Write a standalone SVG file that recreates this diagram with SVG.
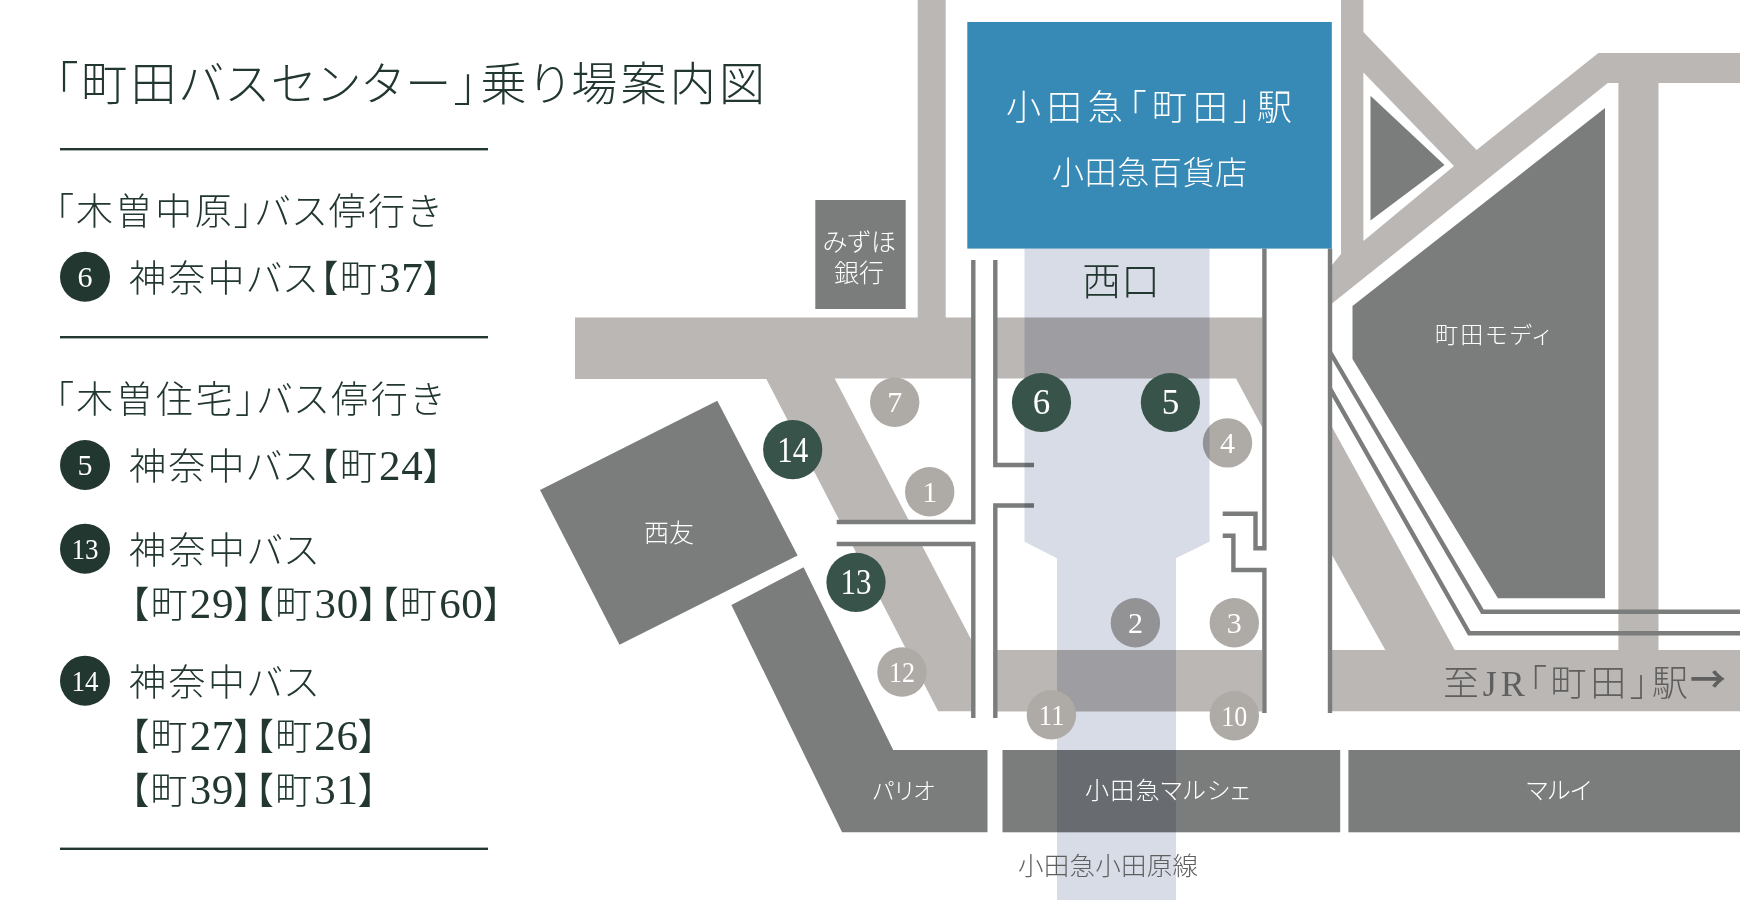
<svg xmlns="http://www.w3.org/2000/svg" width="1740" height="900" viewBox="0 0 1740 900">
<style>
text{font-family:"Liberation Serif","Noto Sans CJK JP",serif;font-weight:300;font-feature-settings:"palt";}
.k{fill:#22372f}
.w{fill:#fff}
.g{fill:#5f5f5f}
.m{text-anchor:middle}
.road{fill:#bbb7b4}
.bld{fill:#7b7d7c}
.wall{fill:none;stroke:#7b7d7c;stroke-width:4.4}
.rule{fill:#22372f}
.cd{fill:#22372f}
.cm{fill:#38544a}
.cl{fill:#aeaaa6}
.t48{font-size:46px}
.t38{font-size:37px}
.d{font-size:43px;letter-spacing:-1.5px}
.n28{font-size:30px}
.n36{font-size:35px}
.n28s{font-size:30px}
</style>
<rect width="1740" height="900" fill="#fff"/>
<g id="roads">
<path class="road" d="M575,317.5H917.7V0H945.7V317.5H1262V427L1236,378.6H834.7L971.4,640V650H997V650H1262V711.3H938.2L766.3,379H575Z"/>
<path class="road" d="M1341,0H1363.4V32L1476.6,150L1598.4,52.9H1740V82.9H1658.5V650H1618.4V82.9H1607.8L1332,303.6V265L1341,254Z"/>
<path class="road" d="M1332,427L1454.8,650H1740V711.3H1332V650H1385.3L1332,555Z"/>
<rect x="997" y="650" width="265" height="61.3" class="road"/>
<path fill="#fff" d="M1363.4,72.5L1454,166L1363.4,241Z"/>
<rect x="836" y="524" width="137" height="18" fill="#fff"/>
<rect x="973" y="250" width="22" height="470" fill="#fff"/>
</g>
<g id="walls">
<path class="wall" d="M836.7,522H973.3V260"/>
<path class="wall" d="M836.7,544H973.3V718"/>
<path class="wall" d="M995.3,260V465H1034"/>
<path class="wall" d="M995.3,718V505.5H1034"/>
<path class="wall" d="M1264.4,248.6V548.3H1255.5V513.7H1222.7"/>
<path class="wall" d="M1222.7,535.7H1233.4V570H1264.4V713"/>
<path class="wall" d="M1330,248.6V713"/>
<path class="wall" d="M1330,352L1482.4,611.7H1740"/>
<path class="wall" d="M1330,388.6L1469.3,633.3H1740"/>
</g>
<g id="mizuho"><rect class="bld" x="815.3" y="200" width="90.4" height="109"/></g>
<g id="seiyu"><path class="bld" d="M540,490L717.3,400.7L797.6,555.5L619.5,644.7Z"/></g>
<g id="pario"><path class="bld" d="M731.4,605L803.6,567.3L893.2,750H987.5V832.3H842.1Z"/></g>
<g id="marche"><rect class="bld" x="1002.5" y="750" width="337.7" height="82.3"/></g>
<g id="marui"><rect class="bld" x="1348.4" y="750" width="391.6" height="82.3"/></g>
<g id="modi"><path class="bld" d="M1605,107.9V598.3H1497.9L1352.5,359V306Z"/></g>
<g id="triangle"><path class="bld" d="M1370.5,95.7L1444.5,165L1370.5,220.4Z"/></g>
<g id="stop2"><circle class="cl" cx="1135.4" cy="622.7" r="24.7"/></g>
<g id="stop4"><circle class="cl" cx="1227.5" cy="442.9" r="24.7"/></g>
<path id="concourse" fill="#d7dce6" style="mix-blend-mode:multiply" d="M1024.5,248.6H1209.5V541.7L1176,558.3V900H1057V558.3L1024.5,541.7Z"/>
<g id="station">
<rect x="967.3" y="22" width="364.5" height="226.6" fill="#378ab5"/>
<text class="w" x="1006" y="120" font-size="35" textLength="286">小田急「町田」駅</text>
<text class="w" x="1052" y="184" font-size="32" textLength="195">小田急百貨店</text>
</g>
<g id="labels">
<text class="k" x="1082" y="295" font-size="39" textLength="78">西口</text>
<text class="w" x="1435" y="343" font-size="23" textLength="115">町田モディ</text>
<text class="w" x="822.7" y="251" font-size="25" textLength="73">みずほ</text>
<text class="w" x="834" y="282" font-size="25" textLength="50">銀行</text>
<text class="w" x="644" y="542" font-size="25" textLength="50">西友</text>
<text class="w" x="872.5" y="799" font-size="23" textLength="62">パリオ</text>
<text class="w" x="1085" y="799" font-size="24" textLength="165">小田急マルシェ</text>
<text class="w" x="1526.4" y="799" font-size="24" textLength="65">マルイ</text>
<text class="g" x="1017.9" y="875" font-size="25.5" textLength="180">小田急小田原線</text>
<text class="g" x="1443" y="696" font-size="36" textLength="245">至JR「町田」駅</text>
<text class="g" x="1690" y="693" font-size="36" style="font-family:'Noto Sans CJK JP',sans-serif;font-weight:700" textLength="36" lengthAdjust="spacingAndGlyphs">→</text>
</g>
<g id="stops">
<g id="stop7"><circle class="cl" cx="894.7" cy="402.3" r="24.7"/><text class="w m n28s" x="894.7" y="412">7</text></g>
<g id="stop1"><circle class="cl" cx="929.7" cy="491.7" r="24.7"/><text class="w m n28s" x="929.7" y="501.5">1</text></g>
<text class="w m n28s" x="1135.4" y="632.5">2</text>
<g id="stop3"><circle class="cl" cx="1234.3" cy="622.7" r="24.7"/><text class="w m n28s" x="1234.3" y="632.5">3</text></g>
<text class="w m n28s" x="1227.5" y="452.7">4</text>
<g id="stop10"><circle class="cl" cx="1234.3" cy="715.7" r="24.7"/><text class="w m n28s" x="1234.3" y="725.5" textLength="26" lengthAdjust="spacingAndGlyphs">10</text></g>
<g id="stop11"><circle class="cl" cx="1051.4" cy="714.7" r="24.7"/><text class="w m n28s" x="1051.4" y="724.5" textLength="26" lengthAdjust="spacingAndGlyphs">11</text></g>
<g id="stop12"><circle class="cl" cx="902" cy="672" r="24.7"/><text class="w m n28s" x="902" y="681.8" textLength="26" lengthAdjust="spacingAndGlyphs">12</text></g>
<g id="stop14"><circle class="cm" cx="792.7" cy="449.7" r="29.6"/><text class="w m n36" x="792.7" y="461.5" textLength="31" lengthAdjust="spacingAndGlyphs">14</text></g>
<g id="stop13"><circle class="cm" cx="856" cy="582.3" r="29.6"/><text class="w m n36" x="856" y="594" textLength="31" lengthAdjust="spacingAndGlyphs">13</text></g>
<g id="stop6"><circle class="cm" cx="1041.5" cy="402.5" r="29.6"/><text class="w m n36" x="1041.5" y="414.3">6</text></g>
<g id="stop5"><circle class="cm" cx="1170.4" cy="402.5" r="29.6"/><text class="w m n36" x="1170.4" y="414.3">5</text></g>
</g>
<g id="legend">
<text class="k t48" x="55" y="100" textLength="710">「町田バスセンター」乗り場案内図</text>
<rect class="rule" x="60" y="148" width="428" height="2.4"/>
<text class="k t38" x="55" y="225" textLength="385">「木曽中原」バス停行き</text>
<circle class="cd" cx="85" cy="276.7" r="25"/><text class="w m n28" x="85" y="286.8">6</text>
<text class="k t38" x="129" y="292" textLength="313">神奈中バス【町<tspan class="d">37</tspan>】</text>
<rect class="rule" x="60" y="336" width="428" height="2.4"/>
<text class="k t38" x="55" y="413" textLength="388">「木曽住宅」バス停行き</text>
<circle class="cd" cx="85" cy="465" r="25"/><text class="w m n28" x="85" y="475.1">5</text>
<text class="k t38" x="129" y="480" textLength="313">神奈中バス【町<tspan class="d">24</tspan>】</text>
<circle class="cd" cx="85" cy="548.7" r="25"/><text class="w m n28" x="85" y="558.8" textLength="27" lengthAdjust="spacingAndGlyphs">13</text>
<text class="k t38" x="129" y="564" textLength="189">神奈中バス</text>
<text class="k t38" x="130" y="618" textLength="372">【町<tspan class="d">29</tspan>】【町<tspan class="d">30</tspan>】【町<tspan class="d">60</tspan>】</text>
<circle class="cd" cx="85" cy="680.7" r="25"/><text class="w m n28" x="85" y="690.8" textLength="27" lengthAdjust="spacingAndGlyphs">14</text>
<text class="k t38" x="129" y="696" textLength="189">神奈中バス</text>
<text class="k t38" x="130" y="750" textLength="247">【町<tspan class="d">27</tspan>】【町<tspan class="d">26</tspan>】</text>
<text class="k t38" x="130" y="804" textLength="247">【町<tspan class="d">39</tspan>】【町<tspan class="d">31</tspan>】</text>
<rect class="rule" x="60" y="847.6" width="428" height="2.4"/>
</g>
</svg>
